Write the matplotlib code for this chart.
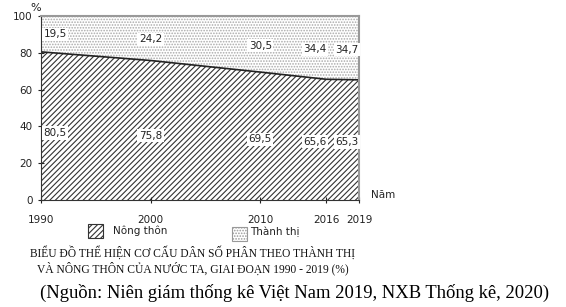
import matplotlib
matplotlib.use("Agg")
import matplotlib.pyplot as plt
from matplotlib.patches import Rectangle

years = [1990, 2000, 2010, 2016, 2019]
rural = [80.5, 75.8, 69.5, 65.6, 65.3]
urban = [19.5, 24.2, 30.5, 34.4, 34.7]
yticks = [0, 20, 40, 60, 80, 100]

plt.rcParams['hatch.linewidth'] = 0.8
fig = plt.figure(figsize=(5.66, 3.07), dpi=100)
ax = fig.add_axes([0.0724, 0.3485, 0.5618, 0.5995])

top = [r + u for r, u in zip(rural, urban)]
ax.fill_between(years, 0, rural, facecolor='white', edgecolor='#333333', hatch='//////', linewidth=0)
ax.fill_between(years, rural, top, facecolor='white', edgecolor='#aaaaaa', hatch='......', linewidth=0)
ax.plot(years, rural, color='#222222', lw=1.2)

ax.set_xlim(years[0], years[-1])
ax.set_ylim(0, 100)
ax.set_xticks(years)
ax.set_yticks(yticks)
ax.tick_params(axis='both', labelsize=7.5, direction='inout', length=5, width=0.8, colors='#222222')
ax.tick_params(axis='x', pad=8)
ax.spines['left'].set_color('#333333')
ax.spines['bottom'].set_color('#333333')
ax.spines['top'].set_color('#999999')
ax.spines['right'].set_color('#999999')
ax.spines['top'].set_linewidth(1.5)
ax.spines['right'].set_linewidth(1.5)

bbox = dict(boxstyle='square,pad=0.15', fc='white', ec='none')
label_x = [1991.3, 2000, 2010, 2015.0, 2017.9]
for x, r, u in zip(label_x, rural, urban):
    ax.text(x, 90 - (u - 19.5) * 0.55, f"{u:.1f}".replace('.', ','),
            fontsize=7.5, ha='center', va='center', bbox=bbox, color='#222222')
    ax.text(x, 36.4 - (80.5 - r) * 0.32, f"{r:.1f}".replace('.', ','),
            fontsize=7.5, ha='center', va='center', bbox=bbox, color='#222222')

fig.text(0.063, 0.975, '%', fontsize=8, ha='center', va='center', color='#222222')
fig.text(0.655, 0.365, 'Năm', fontsize=7.5, ha='left', va='center', color='#222222')

# legend
fig.patches.append(Rectangle((88/566, 1-238/307), 15/566, 14/307, transform=fig.transFigure,
                             facecolor='white', edgecolor='#333333', hatch='//////', lw=0.8))
fig.text(113/566, 1-231/307, 'Nông thôn', fontsize=7.5, ha='left', va='center', color='#222222')
fig.patches.append(Rectangle((232/566, 1-241/307), 15/566, 14/307, transform=fig.transFigure,
                             facecolor='white', edgecolor='#999999', hatch='......', lw=0.8))
fig.text(250/566, 1-232/307, 'Thành thị', fontsize=7.5, ha='left', va='center', color='#222222')

fig.text(193/566, 1-253/307, 'BIỂU ĐỒ THỂ HIỆN CƠ CẤU DÂN SỐ PHÂN THEO THÀNH THỊ',
         fontsize=8.3, ha='center', va='center', family='Liberation Serif', color='#111111')
fig.text(193/566, 1-268/307, 'VÀ NÔNG THÔN CỦA NƯỚC TA, GIAI ĐOẠN 1990 - 2019 (%)',
         fontsize=8.3, ha='center', va='center', family='Liberation Serif', color='#111111')
fig.text(295/566, 1-293/307, '(Nguồn: Niên giám thống kê Việt Nam 2019, NXB Thống kê, 2020)',
         fontsize=13.4, ha='center', va='center', family='Liberation Serif', color='black')

fig.savefig('out.png', dpi=100)
